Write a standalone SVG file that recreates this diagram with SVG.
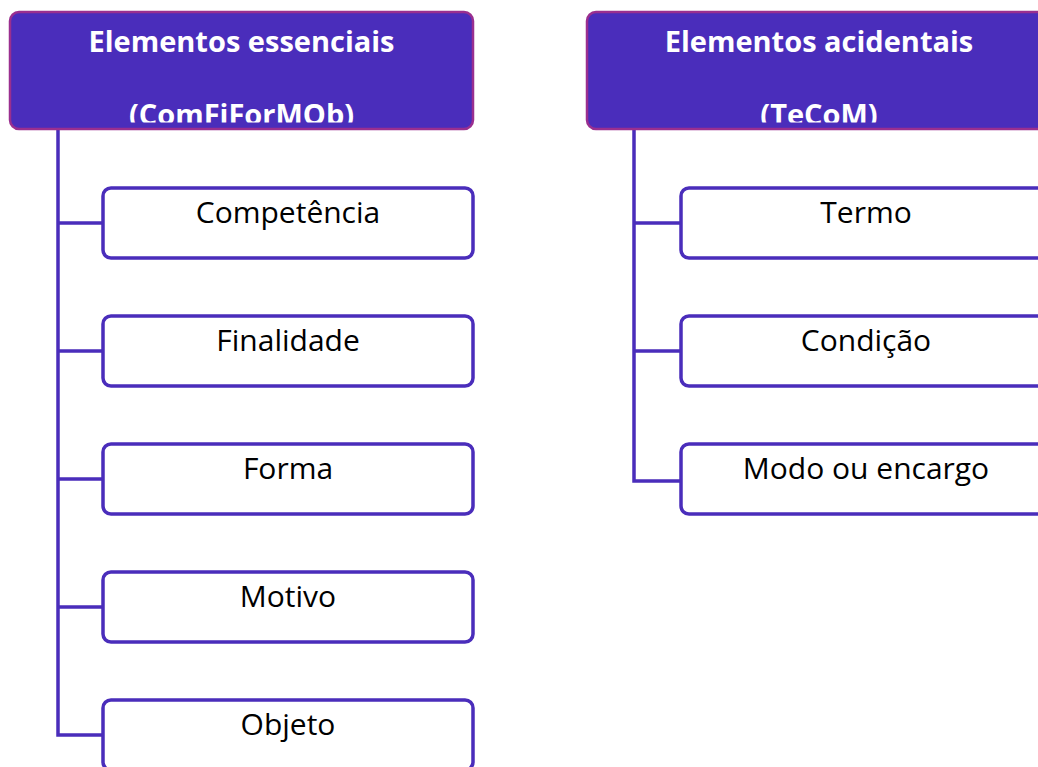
<svg xmlns="http://www.w3.org/2000/svg" width="1038" height="767" viewBox="0 0 1038 767">
<style>
.hdr{fill:#4a2dbb;stroke:#9a2f8f;stroke-width:2.5}
.ht{font-family:"Open Sans","Liberation Sans",sans-serif;font-weight:bold;font-size:29px;fill:#ffffff;text-anchor:middle}
.box{fill:#ffffff;stroke:#4a2dbb;stroke-width:3.5}
.bt{font-family:"Open Sans","Liberation Sans",sans-serif;font-size:30px;fill:#000000;text-anchor:middle}
.con{fill:none;stroke:#4a2dbb;stroke-width:3.5}
</style>
<defs>
<clipPath id="c1"><rect x="10" y="12" width="463" height="110.5"/></clipPath>
<clipPath id="c2"><rect x="587" y="12" width="464" height="110.5"/></clipPath>
</defs>
<rect width="1038" height="767" fill="#ffffff"/>
<g id="connectors">
<path class="con" d="M58,129 V735 H103 M58,223 H103 M58,351 H103 M58,479 H103 M58,607 H103"/>
<path class="con" d="M634,129 V481 H681 M634,223 H681 M634,351 H681"/>
</g>
<g id="h1">
<rect class="hdr" x="10" y="12" width="463" height="117" rx="9"/>
<g clip-path="url(#c1)">
<text class="ht" x="241.5" y="52">Elementos essenciais</text>
<text class="ht" x="241.5" y="125">(ComFiForMOb)</text>
</g>
</g>
<g id="h2">
<rect class="hdr" x="587" y="12" width="464" height="117" rx="9"/>
<g clip-path="url(#c2)">
<text class="ht" x="819" y="52">Elementos acidentais</text>
<text class="ht" x="819" y="125">(TeCoM)</text>
</g>
</g>
<g id="n1"><rect class="box" x="103" y="188" width="370" height="70" rx="8"/><text class="bt" x="288" y="223">Competência</text></g>
<g id="n2"><rect class="box" x="103" y="316" width="370" height="70" rx="8"/><text class="bt" x="288" y="351">Finalidade</text></g>
<g id="n3"><rect class="box" x="103" y="444" width="370" height="70" rx="8"/><text class="bt" x="288" y="479">Forma</text></g>
<g id="n4"><rect class="box" x="103" y="572" width="370" height="70" rx="8"/><text class="bt" x="288" y="607">Motivo</text></g>
<g id="n5"><rect class="box" x="103" y="700" width="370" height="70" rx="8"/><text class="bt" x="288" y="735">Objeto</text></g>
<g id="n6"><rect class="box" x="681" y="188" width="370" height="70" rx="8"/><text class="bt" x="866" y="223">Termo</text></g>
<g id="n7"><rect class="box" x="681" y="316" width="370" height="70" rx="8"/><text class="bt" x="866" y="351">Condição</text></g>
<g id="n8"><rect class="box" x="681" y="444" width="370" height="70" rx="8"/><text class="bt" x="866" y="479">Modo ou encargo</text></g>
</svg>
